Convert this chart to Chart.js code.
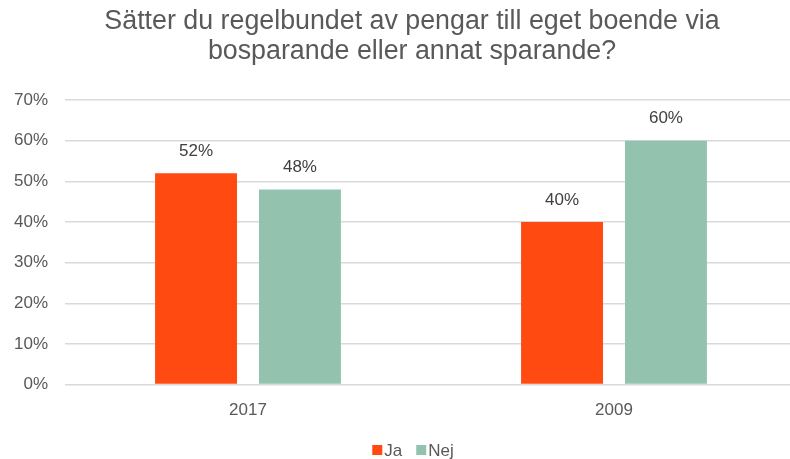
<!DOCTYPE html>
<html>
<head>
<meta charset="utf-8">
<script src="https://cdn.jsdelivr.net/npm/chart.js@4"></script>
<style>
  html, body { margin: 0; padding: 0; background: #fff; overflow: hidden; }
  #wrap { width: 826px; height: 459px; }
</style>
</head>
<body>
<div id="wrap"><canvas id="chart" width="826" height="459"></canvas></div>
<script>
const categories = ['2017', '2009'];
const jaValues = [0.52, 0.40];
const nejValues = [0.48, 0.60];
const yTicks = [0, 0.1, 0.2, 0.3, 0.4, 0.5, 0.6, 0.7];
const titleLines = ['Sätter du regelbundet av pengar till eget boende via', 'bosparande eller annat sparande?'];

const textColor = '#595959';
const fontFamily = "'Liberation Sans', Arial, sans-serif";

// percent labels above each bar
const barLabels = {
    id: 'barLabels',
    afterDatasetsDraw(chart) {
        const ctx = chart.ctx;
        ctx.save();
        ctx.font = '17px ' + fontFamily;
        ctx.fillStyle = '#404040';
        ctx.textAlign = 'center';
        ctx.textBaseline = 'middle';
        chart.data.datasets.forEach((ds, i) => {
            chart.getDatasetMeta(i).data.forEach((bar, j) => {
                const txt = Math.round(ds.data[j] * 100) + '%';
                ctx.fillText(txt, bar.x, bar.y - 22);
            });
        });
        ctx.restore();
    }
};

// title centred on the whole chart (Excel style), not on the plot
const centredTitle = {
    id: 'centredTitle',
    afterDraw(chart) {
        const ctx = chart.ctx;
        ctx.save();
        ctx.font = '26.8px ' + fontFamily;
        ctx.fillStyle = textColor;
        ctx.textAlign = 'center';
        ctx.textBaseline = 'middle';
        titleLines.forEach((line, i) => ctx.fillText(line, chart.width / 2 - 1, 22 + i * 30));
        ctx.restore();
    }
};

// compact legend at the bottom (box right next to the text)
const bottomLegend = {
    id: 'bottomLegend',
    afterDraw(chart) {
        const ctx = chart.ctx;
        const ds = chart.data.datasets;
        ctx.save();
        ctx.font = '17px ' + fontFamily;
        ctx.textBaseline = 'middle';
        const box = 10, gapText = 2, gapItem = 14;
        const widths = ds.map(d => box + gapText + ctx.measureText(d.label).width);
        const total = widths.reduce((a, b) => a + b, 0) + gapItem * (ds.length - 1);
        let x = chart.width / 2 - total / 2;
        const y = 450;
        ds.forEach((d, i) => {
            ctx.fillStyle = d.backgroundColor;
            ctx.fillRect(x, y - box / 2, box, box);
            ctx.fillStyle = textColor;
            ctx.fillText(d.label, x + box + gapText, y + 1);
            x += widths[i] + gapItem;
        });
        ctx.restore();
    }
};

new Chart(document.getElementById('chart'), {
    type: 'bar',
    data: {
        labels: categories,
        datasets: [
            { label: 'Ja', data: jaValues, backgroundColor: '#FF4B11', categoryPercentage: 0.568, barPercentage: 0.788 },
            { label: 'Nej', data: nejValues, backgroundColor: '#93C3AE', categoryPercentage: 0.568, barPercentage: 0.788 }
        ]
    },
    options: {
        responsive: false,
        animation: false,
        layout: { padding: { left: 0, right: 29, top: 100, bottom: 30 } },
        plugins: {
            title: { display: false },
            legend: { display: false },
            tooltip: { enabled: false }
        },
        scales: {
            x: {
                grid: { display: false },
                border: { color: '#d9d9d9', width: 1 },
                ticks: { color: textColor, font: { size: 17, family: fontFamily }, padding: 8 }
            },
            y: {
                min: 0,
                max: 0.7,
                afterFit(scale) { scale.width = 65; },
                afterBuildTicks(scale) { scale.ticks = yTicks.map(v => ({ value: v })); },
                grid: { color: '#d9d9d9', lineWidth: 1.5, drawTicks: false },
                border: { display: false },
                ticks: {
                    color: textColor,
                    font: { size: 17, family: fontFamily },
                    padding: 17,
                    callback: v => Math.round(v * 100) + '%'
                }
            }
        }
    },
    plugins: [barLabels, centredTitle, bottomLegend]
});
</script>
</body>
</html>
